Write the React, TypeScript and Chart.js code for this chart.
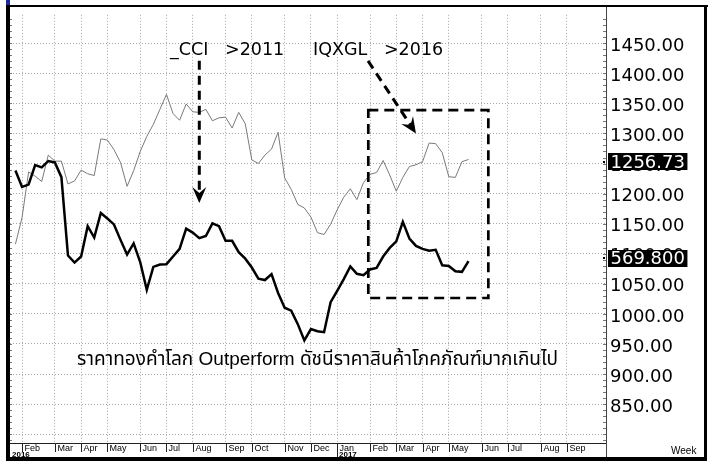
import React, { useEffect, useRef } from 'react';
import { Chart, registerables } from 'chart.js';

Chart.register(...registerables);

// Weekly bars (Monday-dated). Week 0 = week of 1 Feb 2016; first bar is week -1 (25 Jan 2016).
const FIRST_WEEK = -1;

// IQXGL (gold spot, USD/oz) weekly
const goldIQXGL = [
  1116, 1160, 1236, 1229, 1220, 1264, 1254, 1254, 1216, 1221, 1239, 1233, 1230, 1291, 1289, 1273,
  1252, 1212, 1238, 1270, 1295, 1315, 1340, 1365, 1333, 1322, 1349, 1336, 1335, 1340, 1321, 1326,
  1327, 1309, 1335, 1316, 1256, 1250, 1264, 1274, 1302, 1226, 1207, 1182, 1176, 1161, 1135, 1132,
  1149, 1173, 1194, 1208, 1190, 1218, 1232, 1235, 1255, 1231, 1204, 1227, 1245, 1248, 1253, 1284,
  1283, 1268, 1228, 1227, 1253, 1256.73,
];

// _CCI weekly (own hidden scale)
const cciIndex = [
  616.0, 607.6, 608.8, 618.8, 617.6, 620.8, 620.1, 612.6, 572.6, 569.0, 572.1, 587.6, 581.8, 594.3,
  591.5, 588.5, 580.6, 573.1, 578.8, 569.3, 555.1, 566.8, 568.0, 568.2, 572.1, 576.0, 586.3, 584.3,
  581.5, 582.6, 589.0, 587.6, 580.1, 580.1, 574.3, 571.0, 566.5, 560.8, 560.1, 563.1, 553.5, 546.0,
  544.5, 537.6, 529.3, 535.1, 534.0, 533.5, 548.8, 554.6, 560.6, 567.1, 563.3, 562.6, 565.5, 566.3,
  572.1, 576.5, 579.8, 589.8, 581.3, 577.5, 576.0, 575.1, 575.5, 567.6, 567.3, 564.6, 564.3, 569.8,
];

// Month ticks (label, week number of first bar in that month)
const monthLabels = ['Feb', 'Mar', 'Apr', 'May', 'Jun', 'Jul', 'Aug', 'Sep', 'Oct', 'Nov', 'Dec', 'Jan',
  'Feb', 'Mar', 'Apr', 'May', 'Jun', 'Jul', 'Aug', 'Sep'];
const monthWeeks = [0, 5, 9, 13, 18, 22, 26, 31, 35, 40, 44, 48, 53, 57, 61, 65, 70, 74, 79, 83];
const yearLabels = ['2016', '2017'];
const yearWeeks = [-1.83, 48];

const X_MIN = -1.83;
const X_MAX = 88.94;
const Y_MIN = 785.34;
const Y_MAX = 1497.25;
const Y2_MIN = 476.95;
const Y2_MAX = 695.45;
const Y_LABEL_MIN = 850;
const Y_LABEL_MAX = 1450;

const annotTexts = ['_CCI   >2011', 'IQXGL   >2016'];
const annotTextPos = [[22.54, 1430.4], [44.32, 1430.4]];
const thaiNote = 'ราคาทองคำโลก Outperform ดัชนีราคาสินค้าโภคภัณฑ์มากเกินไป';
const thaiPos = [45.0, 915.6];
const arrowCci = [[27.0, 1420.7], [27.0, 1184.4]];
const arrowGold = [[52.7, 1420.7], [60.0, 1300.1]];
const boxRange = [[52.74, 1338.7], [71.02, 1026.4]];

const MAIN_FONT = '"DejaVu Sans", Verdana, sans-serif';

const overlayPlugin = {
  id: 'overlay',
  beforeDraw(chart: any) {
    const { ctx, width, height } = chart;
    ctx.save();
    ctx.fillStyle = '#ffffff';
    ctx.fillRect(0, 0, width, height);
    ctx.restore();
  },
  afterDraw(chart: any) {
    const { ctx, chartArea: a, scales, height } = chart;
    const xs = scales.x;
    const ys = scales.y;
    const y2s = scales.y2;
    const X = (w: number) => xs.getPixelForValue(w);
    const Y = (v: number) => ys.getPixelForValue(v);
    const line = (x1: number, y1: number, x2: number, y2: number) => {
      ctx.beginPath();
      ctx.moveTo(x1, y1);
      ctx.lineTo(x2, y2);
      ctx.stroke();
    };
    ctx.save();

    // minor ticks (left and right edges)
    ctx.strokeStyle = '#777';
    ctx.lineWidth = 1;
    for (let v = 790; v <= 1495; v += 10) {
      const yy = Math.round(Y(v)) + 0.5;
      line(a.left, yy, a.left + 2, yy);
      line(a.right - 3, yy, a.right, yy);
    }

    // right axis line
    ctx.strokeStyle = '#444';
    line(Math.round(a.right) + 0.5, 6, Math.round(a.right) + 0.5, 457);

    // bottom date strip
    const st = Math.round(a.bottom);
    ctx.strokeStyle = '#222';
    line(a.left, st + 0.5, a.right, st + 0.5);
    ctx.fillStyle = '#000';
    ctx.textBaseline = 'alphabetic';
    ctx.textAlign = 'left';
    ctx.font = '9px "Liberation Sans", Arial, sans-serif';
    monthWeeks.forEach((w, k) => {
      const xx = Math.round(X(w)) + 0.5;
      const isYear = yearWeeks.indexOf(w) >= 0;
      line(xx, st, xx, isYear ? 457 : st + 9);
      ctx.fillText(monthLabels[k], xx + 2, st + 8);
    });
    ctx.font = 'bold 8px "Liberation Sans", Arial, sans-serif';
    yearWeeks.forEach((w, k) => {
      const xx = Math.max(a.left, X(w));
      ctx.fillText(yearLabels[k], Math.round(xx) + 2, st + 13.5);
    });
    ctx.font = '10px "Liberation Sans", Arial, sans-serif';
    ctx.fillText('Week', 671, 454);

    // annotation texts
    ctx.fillStyle = '#000';
    ctx.font = '17.5px ' + MAIN_FONT;
    annotTexts.forEach((t, k) => {
      ctx.fillText(t, X(annotTextPos[k][0]), Y(annotTextPos[k][1]));
    });
    ctx.font = '19px "Liberation Sans", "Noto Sans Thai", "Noto Sans", Tahoma, sans-serif';
    ctx.textAlign = 'center';
    ctx.fillText(thaiNote, X(thaiPos[0]), Y(thaiPos[1]));
    ctx.textAlign = 'left';

    // dashed arrows
    const dashedArrow = (p1: number[], p2: number[]) => {
      const x1 = X(p1[0]), y1 = Y(p1[1]), x2 = X(p2[0]), y2 = Y(p2[1]);
      const ang = Math.atan2(y2 - y1, x2 - x1);
      const bx = x2 - Math.cos(ang) * 10;
      const by = y2 - Math.sin(ang) * 10;
      ctx.strokeStyle = '#000';
      ctx.lineWidth = 3;
      ctx.setLineDash([9, 6]);
      line(x1, y1, bx, by);
      ctx.setLineDash([]);
      ctx.save();
      ctx.translate(x2, y2);
      ctx.rotate(ang);
      ctx.fillStyle = '#000';
      ctx.beginPath();
      ctx.moveTo(0, 0);
      ctx.lineTo(-16, -7);
      ctx.lineTo(-10, 0);
      ctx.lineTo(-16, 7);
      ctx.closePath();
      ctx.fill();
      ctx.restore();
    };
    dashedArrow(arrowCci[0], arrowCci[1]);
    dashedArrow(arrowGold[0], arrowGold[1]);

    // dashed box
    ctx.strokeStyle = '#000';
    ctx.lineWidth = 2.7;
    ctx.setLineDash([10, 6]);
    const bx1 = X(boxRange[0][0]), by1 = Y(boxRange[0][1]);
    const bx2 = X(boxRange[1][0]), by2 = Y(boxRange[1][1]);
    ctx.strokeRect(bx1, by1, bx2 - bx1, by2 - by1);
    ctx.setLineDash([]);

    // last value boxes
    const valueBox = (text: string, yc: number) => {
      ctx.font = '18px ' + MAIN_FONT;
      const w = ctx.measureText(text).width;
      const x0 = Math.round(a.right) + 2;
      ctx.fillStyle = '#000';
      ctx.fillRect(x0, Math.round(yc - 8.5), w + 5, 17);
      ctx.fillStyle = '#fff';
      ctx.textBaseline = 'middle';
      ctx.fillText(text, x0 + 2.5, yc + 1);
      ctx.textBaseline = 'alphabetic';
      ctx.fillStyle = '#000';
      ctx.fillRect(x0 - 5, Math.round(yc) - 1, 2, 2);
    };
    const lastGold = goldIQXGL[goldIQXGL.length - 1];
    const lastCci = cciIndex[cciIndex.length - 1];
    valueBox(lastGold.toFixed(2), Y(lastGold) + 2.5);
    valueBox(lastCci.toFixed(3), y2s.getPixelForValue(lastCci) - 3);

    // frame
    ctx.fillStyle = '#000';
    ctx.fillRect(6, 5, 702, 2);
    ctx.fillRect(6, 5, 4, height - 5);
    ctx.fillRect(704, 5, 3, height - 5);
    ctx.fillRect(6, 457, 701, 4);
    ctx.fillStyle = '#1c2a9a';
    ctx.fillRect(6, 0, 4, 5);

    ctx.restore();
  },
};

export default function App() {
  const ref = useRef<HTMLCanvasElement>(null);
  useEffect(() => {
    document.body.style.margin = '0';
    const toPoints = (arr: number[]) => arr.map((v, k) => ({ x: FIRST_WEEK + k, y: v }));
    const chart = new Chart(ref.current as HTMLCanvasElement, {
      type: 'line',
      data: {
        datasets: [
          {
            label: '_CCI',
            data: toPoints(cciIndex),
            borderColor: '#000000',
            borderWidth: 2.5,
            pointRadius: 0,
            yAxisID: 'y2',
            tension: 0,
          },
          {
            label: 'IQXGL',
            data: toPoints(goldIQXGL),
            borderColor: '#7a7a7a',
            borderWidth: 1,
            pointRadius: 0,
            yAxisID: 'y',
            tension: 0,
          },
        ],
      },
      options: {
        responsive: false,
        animation: false,
        devicePixelRatio: 1,
        layout: { padding: { left: 10, top: 6, right: 0, bottom: 0 } },
        plugins: { legend: { display: false }, tooltip: { enabled: false } },
        scales: {
          x: {
            type: 'linear',
            min: X_MIN,
            max: X_MAX,
            afterBuildTicks: (s: any) => {
              s.ticks = monthWeeks.map((v) => ({ value: v }));
            },
            afterFit: (s: any) => {
              s.height = 18;
            },
            ticks: { display: false },
            grid: { color: '#a6a6a6', lineWidth: 1, drawTicks: false },
            border: { display: false, dash: [1, 2] },
          },
          y: {
            type: 'linear',
            position: 'right',
            min: Y_MIN,
            max: Y_MAX,
            afterFit: (s: any) => {
              s.width = 105;
            },
            ticks: {
              stepSize: 50,
              includeBounds: false,
              autoSkip: false,
              padding: 4,
              labelOffset: 3,
              color: '#000',
              font: { family: MAIN_FONT, size: 18 },
              callback: (v: any) => (v >= Y_LABEL_MIN && v <= Y_LABEL_MAX ? Number(v).toFixed(2) : ''),
            },
            grid: { color: '#a6a6a6', lineWidth: 1, drawTicks: false },
            border: { display: false, dash: [1, 2] },
          },
          y2: {
            type: 'linear',
            display: false,
            position: 'left',
            min: Y2_MIN,
            max: Y2_MAX,
          },
        },
      },
      plugins: [overlayPlugin],
    } as any);
    return () => chart.destroy();
  }, []);
  return (
    <div style={{ width: 711, height: 461, position: 'relative' }}>
      <canvas ref={ref} width={711} height={461} style={{ display: 'block', width: 711, height: 461 }} />
    </div>
  );
}
